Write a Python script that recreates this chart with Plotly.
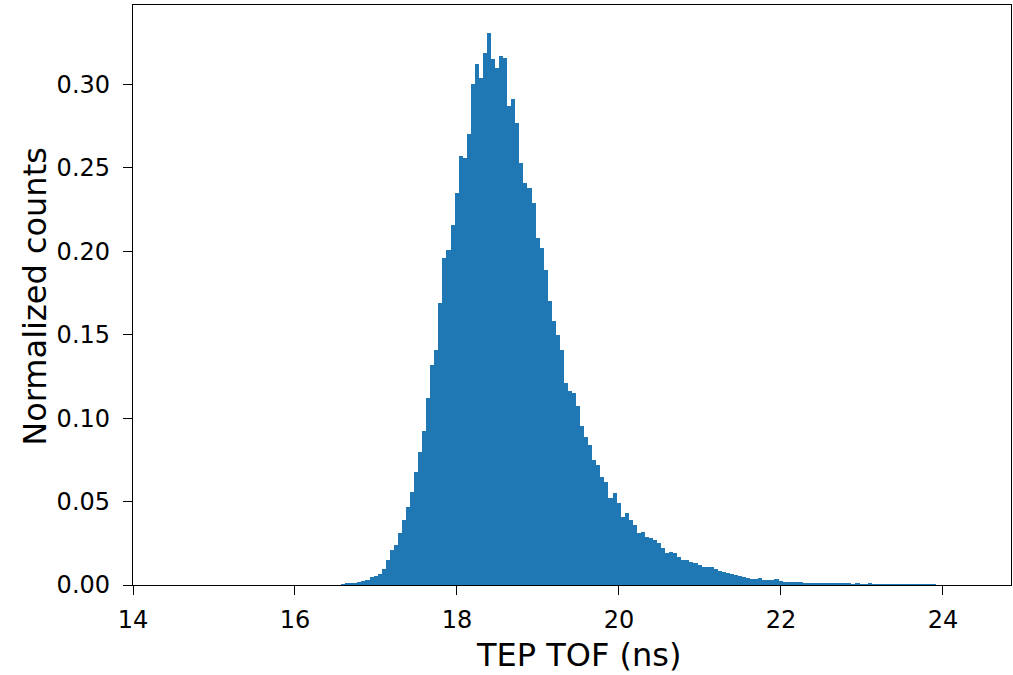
import numpy as np
import plotly.graph_objects as go

# Histogram data (TEP time of flight, ns)
bin_start = 16.57
bin_width = 0.05
normalized_counts = [
    0.0003, 0.0007, 0.0009, 0.0012, 0.0017, 0.0022, 0.003, 0.0045, 0.0055, 0.0068,
    0.0095, 0.015, 0.021, 0.024, 0.031, 0.039, 0.047,
    0.056, 0.068, 0.080, 0.092, 0.112, 0.132, 0.141, 0.169,
    0.196, 0.201, 0.216, 0.235, 0.257, 0.256, 0.270, 0.300, 0.312, 0.304, 0.319, 0.331,
    0.315, 0.310, 0.317, 0.316, 0.287, 0.291, 0.277, 0.253, 0.241, 0.238, 0.229, 0.208,
    0.202, 0.189, 0.170, 0.158, 0.150, 0.141, 0.121, 0.116, 0.115, 0.107, 0.095, 0.089,
    0.084, 0.075, 0.072, 0.065, 0.062, 0.052, 0.055, 0.049,
    0.041, 0.043, 0.039, 0.036, 0.031, 0.032, 0.029, 0.028, 0.027, 0.025, 0.022, 0.019,
    0.020, 0.019, 0.017, 0.015, 0.015, 0.014, 0.013, 0.012,
    0.011, 0.011, 0.0105, 0.0098, 0.0085, 0.0077, 0.0074, 0.0066, 0.0060, 0.0055, 0.0050,
    0.0044, 0.0038, 0.0037, 0.0040, 0.0032, 0.0028, 0.0027, 0.0033, 0.0026, 0.0021,
    0.0019, 0.0018, 0.0018, 0.0016, 0.0015, 0.0014, 0.0013, 0.0014, 0.0012, 0.0011,
    0.0010, 0.0010, 0.0009,
    0.0008, 0.0007, 0.0008, 0.0006, 0.0007, 0.0006, 0.0005, 0.0008, 0.0005, 0.0004,
    0.0005, 0.0004, 0.0006, 0.0004, 0.0003, 0.0004, 0.0003, 0.0004, 0.0005, 0.0003,
    0.0002, 0.0003, 0.0002, 0.0001,
]
x_label = "TEP TOF (ns)"
y_label = "Normalized counts"

centers = bin_start + bin_width * (np.arange(len(normalized_counts)) + 0.5)

fig = go.Figure(
    go.Bar(
        x=centers,
        y=normalized_counts,
        width=bin_width,
        marker=dict(color="#1f77b4", line=dict(width=0)),
        showlegend=False,
        hoverinfo="skip",
    )
)

font_family = "DejaVu Sans"
axis_common = dict(
    showline=True, linecolor="black", linewidth=1.3, mirror=True,
    ticks="outside", ticklen=9, tickwidth=1.3, tickcolor="black",
    showgrid=False, zeroline=False,
    tickfont=dict(family=font_family, size=24, color="black"),
)

fig.update_layout(
    width=1013, height=675,
    margin=dict(l=133, r=2, t=5, b=90),
    paper_bgcolor="white", plot_bgcolor="white",
    bargap=0,
    xaxis=dict(range=[14, 24.84], tick0=14, dtick=2, ticklabelstandoff=4, **axis_common),
    yaxis=dict(range=[0, 0.3476], tick0=0, dtick=0.05, tickformat=".2f",
               ticklabelstandoff=8, **axis_common),
    annotations=[
        dict(text=x_label, xref="paper", yref="paper", x=0.507, y=0,
             xanchor="center", yanchor="middle", yshift=-70, showarrow=False,
             font=dict(family=font_family, size=32, color="black")),
        dict(text=y_label, xref="paper", yref="paper", x=0, y=0.497,
             xanchor="center", yanchor="middle", xshift=-98, textangle=-90,
             showarrow=False,
             font=dict(family=font_family, size=32, color="black")),
    ],
)

fig.write_html(
    "out.html",
    config={"displayModeBar": False},
    post_script="document.body.style.margin='0';document.body.style.overflow='hidden';",
)
